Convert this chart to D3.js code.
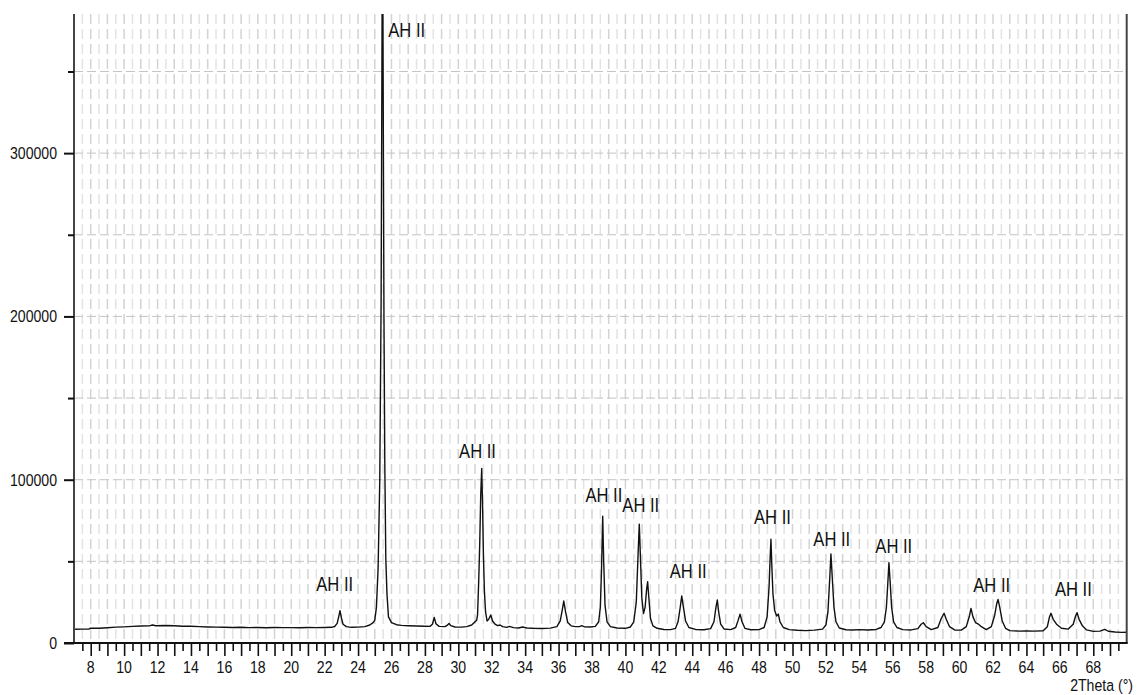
<!DOCTYPE html>
<html>
<head>
<meta charset="utf-8">
<script src="https://cdn.jsdelivr.net/npm/d3@7"></script>
<style>
  body { margin: 0; background: #fff; }
  text { font-family: "Liberation Sans", Arial, sans-serif; fill: #111; }
</style>
</head>
<body>
<svg id="xrd" width="1139" height="695"></svg>
<script>
// measured pattern, [2theta, counts]
var pattern = [
  [7.0, 8400], [7.5, 8500], [7.9, 8600], [8.0, 9100], [8.5, 9000], [9.0, 9300], [9.5, 9700],
  [10.0, 9900], [10.5, 10200], [11.0, 10400], [11.5, 10500], [11.7, 11000], [11.9, 10600],
  [12.5, 10700], [13.0, 10600], [13.5, 10300], [14.0, 10300], [14.5, 10000], [15.0, 9800],
  [15.5, 9700], [16.0, 9600], [16.5, 9500], [17.0, 9600], [17.5, 9400], [18.0, 9500],
  [18.5, 9300], [19.0, 9500], [19.5, 9400], [20.0, 9400], [20.5, 9300], [21.0, 9500],
  [21.5, 9400], [22.0, 9500], [22.4, 9600], [22.6, 10100], [22.75, 12000], [22.85, 16500],
  [22.92, 19800], [23.0, 15500], [23.1, 11500], [23.3, 10000], [23.6, 9600], [24.0, 9700],
  [24.4, 10000], [24.7, 11000], [24.9, 12500], [25.0, 14000], [25.1, 22000], [25.2, 46000],
  [25.3, 100000], [25.38, 210000], [25.44, 390000], [25.46, 420000], [25.49, 380000],
  [25.55, 200000], [25.6, 110000], [25.66, 52000], [25.73, 30000], [25.82, 16000],
  [26.0, 12500], [26.3, 11200], [26.6, 10800], [27.0, 10600], [27.5, 10400], [28.0, 10300],
  [28.3, 10200], [28.45, 11500], [28.56, 15700], [28.66, 11800], [28.85, 10200], [29.2, 10000],
  [29.35, 10900], [29.44, 12000], [29.55, 10600], [29.8, 9800], [30.2, 9700], [30.5, 10000],
  [30.8, 11000], [31.0, 13000], [31.1, 14000], [31.15, 17000], [31.22, 38000], [31.28, 60000],
  [31.34, 90000], [31.40, 106900], [31.45, 85000], [31.5, 55000], [31.56, 32000],
  [31.63, 19000], [31.72, 13500], [31.82, 14500], [31.94, 17100], [32.05, 13500],
  [32.2, 11500], [32.35, 10600], [32.5, 11000], [32.65, 10000], [32.9, 9600], [33.05, 10200],
  [33.3, 9400], [33.6, 9200], [33.85, 9800], [34.1, 9200], [34.5, 9000], [35.0, 8900],
  [35.5, 9100], [35.9, 10000], [36.1, 13500], [36.2, 19000], [36.31, 25700], [36.42, 19000],
  [36.55, 12500], [36.75, 10500], [37.0, 10000], [37.25, 10000], [37.39, 10600], [37.55, 9900],
  [37.9, 9800], [38.2, 10200], [38.4, 13000], [38.5, 22000], [38.57, 45000], [38.64, 77700],
  [38.7, 50000], [38.78, 23000], [38.9, 13000], [39.1, 10000], [39.5, 9200], [40.0, 9000],
  [40.3, 9800], [40.5, 13000], [40.65, 25000], [40.76, 55000], [40.83, 72800], [40.9, 52000],
  [40.98, 28000], [41.08, 18000], [41.18, 22000], [41.27, 33000], [41.33, 37500],
  [41.4, 28000], [41.5, 15000], [41.65, 10500], [41.9, 9000], [42.3, 8300], [42.7, 8200],
  [43.0, 9000], [43.15, 13000], [43.27, 21000], [43.37, 28800], [43.47, 22000],
  [43.6, 13500], [43.8, 9500], [44.2, 8300], [44.7, 8100], [45.1, 8800], [45.3, 13000],
  [45.42, 22000], [45.50, 26300], [45.58, 19000], [45.7, 11500], [45.9, 8600], [46.3, 8200],
  [46.6, 9500], [46.75, 14000], [46.86, 17700], [46.98, 13000], [47.15, 9000], [47.5, 8100],
  [48.0, 8200], [48.3, 9500], [48.48, 16000], [48.6, 35000], [48.66, 52000], [48.71, 63500],
  [48.76, 48000], [48.83, 30000], [48.93, 20000], [49.05, 16500], [49.15, 17700],
  [49.25, 13000], [49.45, 9500], [49.8, 8200], [50.3, 7800], [50.8, 7600], [51.3, 7900],
  [51.8, 8500], [52.0, 11000], [52.12, 19000], [52.22, 38000], [52.30, 54500], [52.38, 40000],
  [52.48, 22000], [52.6, 13000], [52.8, 9200], [53.2, 8100], [53.6, 8000], [54.0, 8200],
  [54.5, 8000], [55.0, 8300], [55.3, 9500], [55.5, 13000], [55.62, 22000], [55.7, 36000],
  [55.77, 49200], [55.84, 38000], [55.93, 22000], [56.05, 13000], [56.25, 9500], [56.6, 8200],
  [57.1, 8000], [57.5, 8800], [57.7, 11500], [57.83, 12400], [58.0, 10000], [58.3, 8200],
  [58.7, 9500], [58.9, 15000], [59.07, 18200], [59.2, 14500], [59.4, 10000], [59.7, 8000],
  [60.1, 7900], [60.4, 10000], [60.6, 17000], [60.68, 21200], [60.8, 16000], [60.95, 12500],
  [61.12, 11600], [61.3, 10000], [61.6, 8200], [61.9, 10000], [62.1, 17000], [62.22, 24000],
  [62.30, 26700], [62.4, 22000], [62.55, 13500], [62.75, 9000], [63.0, 7600], [63.5, 7300],
  [64.0, 7400], [64.5, 7300], [65.0, 7500], [65.25, 10000], [65.38, 16000], [65.47, 18200],
  [65.6, 14500], [65.8, 11500], [66.1, 9000], [66.5, 8500], [66.8, 11500], [66.94, 16500],
  [67.03, 18600], [67.15, 14500], [67.35, 10500], [67.6, 8000], [68.0, 7100], [68.4, 7300],
  [68.69, 8400], [68.9, 7200], [69.3, 6700], [69.7, 6500], [70.0, 6600]
];

// phase labels: [2theta centre, counts at text baseline]
var peakLabels = [
  [22.60, 32000], [26.91, 370900], [31.15, 113100], [38.71, 86500], [40.92, 80400],
  [43.76, 39800], [48.80, 72900], [52.35, 59400], [56.06, 55100], [61.92, 31500], [66.81, 28800]
];
var labelText = "AH II";

var xTicks = d3.range(8, 70, 2);   // labelled
var yTicks = [0, 100000, 200000, 300000];
var xTitle = "2Theta (°)";

var svg = d3.select("#xrd");
var plotL = 74, plotR = 1126.7, plotT = 14, plotB = 643;
var squeeze = 0.83; // the original text is narrow

var x = d3.scaleLinear().domain([7, 70]).range([plotL, plotR]);
var y = d3.scaleLinear().domain([0, 385200]).range([plotB, plotT]);

function label(g, px, py, str, size, anchor) {
  g.append("text")
    .attr("transform", "translate(" + px + "," + py + ") scale(" + squeeze + ",1)")
    .attr("font-size", size)
    .attr("text-anchor", anchor)
    .text(str);
}

// grid
var grid = svg.append("g");
grid.selectAll("line.v")
  .data(d3.range(7.5, 70, 0.5))
  .enter().append("line")
    .attr("class", "v")
    .attr("x1", d => x(d)).attr("x2", d => x(d))
    .attr("y1", plotT).attr("y2", plotB)
    .attr("stroke", d => d % 1 === 0 ? "#d3d3d3" : "#e3e3e3")
    .attr("stroke-width", 1.5)
    .attr("stroke-dasharray", "10,5");
grid.selectAll("line.h")
  .data(d3.range(50000, 385000, 50000))
  .enter().append("line")
    .attr("class", "h")
    .attr("x1", plotL).attr("x2", plotR)
    .attr("y1", d => y(d)).attr("y2", d => y(d))
    .attr("stroke", "#c4c4c4")
    .attr("stroke-width", 1)
    .attr("stroke-dasharray", "9,4");

// pattern
svg.append("clipPath").attr("id", "plot")
  .append("rect").attr("x", plotL).attr("y", plotT)
  .attr("width", plotR - plotL).attr("height", plotB - plotT);

var line = d3.line().x(d => x(d[0])).y(d => y(d[1]));
svg.append("path")
  .datum(pattern)
  .attr("clip-path", "url(#plot)")
  .attr("fill", "none")
  .attr("stroke", "#111")
  .attr("stroke-width", 1.4)
  .attr("stroke-linejoin", "round")
  .attr("d", line);

// frame
svg.append("line").attr("x1", plotL).attr("x2", plotL).attr("y1", plotT).attr("y2", plotB)
  .attr("stroke", "#444").attr("stroke-width", 2);
svg.append("line").attr("x1", plotR).attr("x2", plotR).attr("y1", plotT).attr("y2", plotB)
  .attr("stroke", "#444").attr("stroke-width", 2);

// y axis
var yAxis = svg.append("g").attr("transform", "translate(" + plotL + ",0)")
  .call(d3.axisLeft(y).tickValues(d3.range(0, 385000, 50000)).tickSize(6).tickFormat(""));
yAxis.select(".domain").remove();
yAxis.selectAll(".tick line").attr("stroke", "#111").attr("stroke-width", 2)
  .attr("x2", d => d % 100000 === 0 ? -10 : -6);
yTicks.forEach(v => label(svg, 57, y(v) + 6, d3.format("d")(v), 17, "end"));

// x axis
var xAxis = svg.append("g").attr("transform", "translate(0," + plotB + ")")
  .call(d3.axisBottom(x).tickValues(d3.range(7.5, 70, 0.5)).tickFormat(""));
xAxis.select(".domain").remove();
xAxis.selectAll(".tick line").attr("stroke", "#111").attr("stroke-width", 1.6)
  .attr("y2", d => d % 1 === 0 ? 13 : 8);
svg.append("line").attr("x1", plotL - 10).attr("x2", plotR + 1)
  .attr("y1", plotB).attr("y2", plotB)
  .attr("stroke", "#111").attr("stroke-width", 2);
xTicks.forEach(v => label(svg, x(v), 673, v, 17, "middle"));
label(svg, 1133, 691, xTitle, 17, "end");

// peak labels
peakLabels.forEach(p => label(svg, x(p[0]), y(p[1]), labelText, 20, "middle"));
</script>
</body>
</html>
